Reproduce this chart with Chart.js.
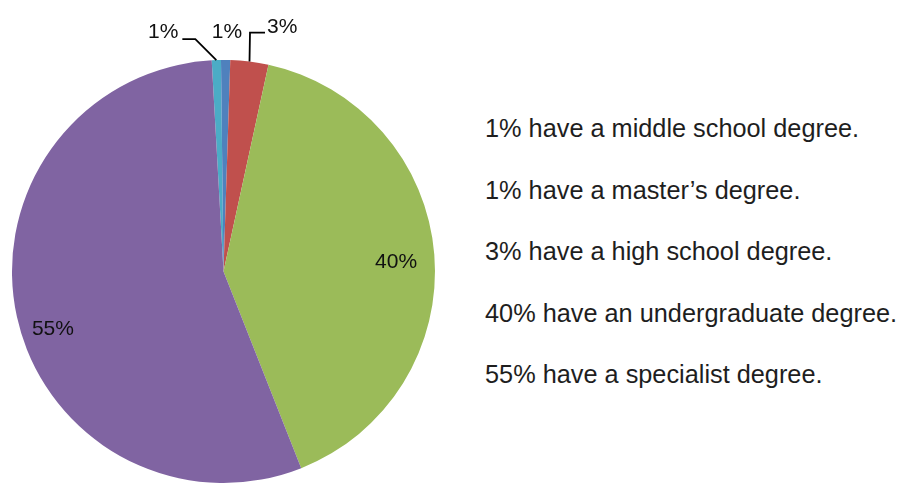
<!DOCTYPE html>
<html>
<head>
<meta charset="utf-8">
<script src="https://cdn.jsdelivr.net/npm/chart.js@4"></script>
<style>
  html, body { margin: 0; padding: 0; background: #fff; }
  #wrap { position: relative; width: 902px; height: 488px; overflow: hidden; }
  #pieBox { position: absolute; left: 0; top: 0; width: 447px; height: 488px; }
  .lbl { position: absolute; font-family: "Liberation Sans", Arial, sans-serif; font-size: 21px; line-height: 21px; color: #111; white-space: nowrap; }
  .leg { position: absolute; left: 485px; font-family: "Liberation Sans", Arial, sans-serif; font-size: 25.3px; line-height: 25.3px; color: #1e1e1e; white-space: nowrap; }
</style>
</head>
<body>
<div id="wrap">
  <div id="pieBox"><canvas id="c"></canvas></div>
</div>
<script>
// ---- data ----
const categories = ["middle school", "master's", "high school", "undergraduate", "specialist"];
const values = [0.7, 0.7, 2.9, 40.6, 55.1];
const sliceLabels = ["1%", "1%", "3%", "40%", "55%"];
const legendTexts = [
  "1% have a middle school degree.",
  "1% have a master\u2019s degree.",
  "3% have a high school degree.",
  "40% have an undergraduate degree.",
  "55% have a specialist degree."
];
const colors = ["#4BACC6", "#4F81BD", "#C0504D", "#9BBB59", "#8064A2"];

// ---- label placement (style/position config, not data) ----
const placement = [
  { mode: "leader", pts: [[-21, -21], [-34, -21]], text: [-38, -22], align: "right" },
  { mode: "outer", text: [1.4, -22], align: "center" },
  { mode: "leader", pts: [[0.5, -29], [15.5, -29]], text: [17.5, -28.5], align: "left" },
  { mode: "inner", frac: 0.818, dAng: 0.7 },
  { mode: "inner", frac: 0.848, dAng: -5.6 }
];
const legendBaselines = [137, 199, 260, 322, 383];
const LBL_SIZE = 21;
const LEG_SIZE = 25.3;

const wrap = document.getElementById("wrap");

// legend as HTML text
legendTexts.forEach((t, i) => {
  const d = document.createElement("div");
  d.className = "leg";
  d.textContent = t;
  d.style.top = (legendBaselines[i] - 0.8465 * LEG_SIZE) + "px";
  wrap.appendChild(d);
});

// label divs
const labelDivs = sliceLabels.map(t => {
  const d = document.createElement("div");
  d.className = "lbl";
  d.textContent = t;
  wrap.appendChild(d);
  return d;
});

const labelPlugin = {
  id: "sliceLabels",
  afterDraw(chart) {
    const ctx = chart.ctx;
    const meta = chart.getDatasetMeta(0);
    meta.data.forEach((arc, i) => {
      const p = placement[i];
      const mid = (arc.startAngle + arc.endAngle) / 2;
      const d = labelDivs[i];
      if (p.mode === "inner") {
        const a = mid + p.dAng * Math.PI / 180;
        const r = arc.outerRadius * p.frac;
        const x = arc.x + Math.cos(a) * r;
        const y = arc.y + Math.sin(a) * r;
        d.style.left = x + "px";
        d.style.top = y + "px";
        d.style.transform = "translate(-50%, -50%)";
      } else {
        const ax = arc.x + Math.cos(mid) * arc.outerRadius;
        const ay = arc.y + Math.sin(mid) * arc.outerRadius;
        if (p.mode === "leader") {
          ctx.save();
          ctx.strokeStyle = "#000";
          ctx.lineWidth = 1.8;
          ctx.beginPath();
          ctx.moveTo(ax, ay);
          p.pts.forEach(q => ctx.lineTo(ax + q[0], ay + q[1]));
          ctx.stroke();
          ctx.restore();
        }
        const tx = ax + p.text[0];
        const base = ay + p.text[1];
        d.style.top = (base - 0.8465 * LBL_SIZE) + "px";
        d.style.left = tx + "px";
        if (p.align === "right") d.style.transform = "translateX(-100%)";
        else if (p.align === "center") d.style.transform = "translateX(-50%)";
        else d.style.transform = "none";
      }
    });
  }
};

new Chart(document.getElementById("c"), {
  type: "pie",
  data: {
    labels: categories,
    datasets: [{
      data: values,
      backgroundColor: colors,
      borderWidth: 0
    }]
  },
  options: {
    responsive: true,
    maintainAspectRatio: false,
    animation: false,
    rotation: -3.2,
    layout: { padding: { top: 60, bottom: 5, left: 12, right: 12 } },
    plugins: {
      legend: { display: false },
      tooltip: { enabled: false }
    }
  },
  plugins: [labelPlugin]
});
</script>
</body>
</html>
